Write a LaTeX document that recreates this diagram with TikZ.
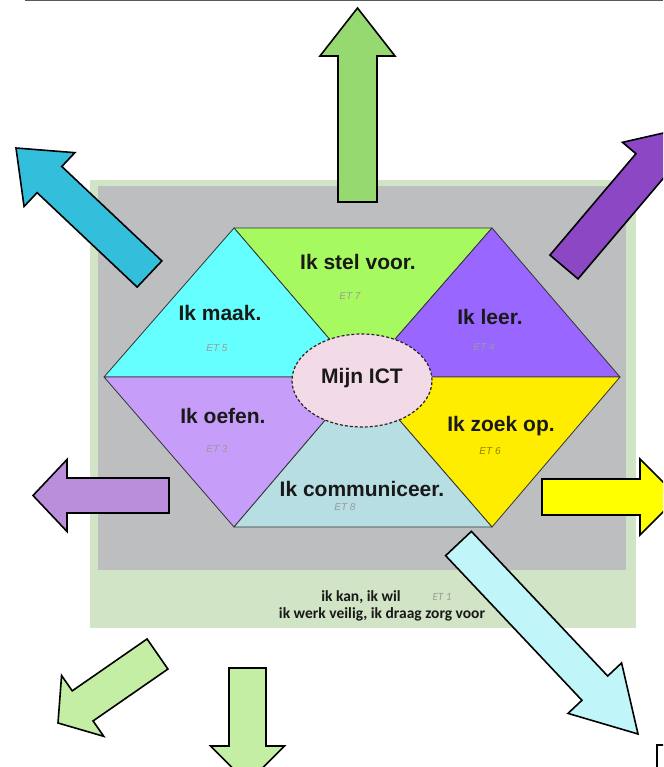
\documentclass[tikz,border=0pt]{standalone}
\usepackage{fontspec}
\setmainfont{Liberation Sans}
\newfontfamily\calfont{Carlito}
\usetikzlibrary{calc,shapes.geometric}
\definecolor{bggreen}{HTML}{D1E4C5}
\definecolor{bggray}{HTML}{BDBEC0}
\definecolor{tgreen}{HTML}{A7F960}
\definecolor{tcyan}{HTML}{66FFFF}
\definecolor{tpurple}{HTML}{9966FF}
\definecolor{tlav}{HTML}{C69DF8}
\definecolor{tyellow}{HTML}{FFED00}
\definecolor{tblue}{HTML}{B7DEE2}
\definecolor{epink}{HTML}{F2DAE6}
\definecolor{agreen}{HTML}{97D971}
\definecolor{acyan}{HTML}{33BFDC}
\definecolor{apurple}{HTML}{8C47C5}
\definecolor{alav}{HTML}{BA8EDB}
\definecolor{ayellow}{HTML}{FFFF00}
\definecolor{alcyan}{HTML}{C0F5FA}
\definecolor{alight}{HTML}{C4EEA4}
\definecolor{etgray}{HTML}{9A9A9A}
\newcommand\blockarr[6]{%
  \coordinate (ba) at #2; \coordinate (ti) at #3;
  \coordinate (hb) at ($(ti)!#6!(ba)$);
  \draw[arrowbox,#1] ($(ba)!#4!90:(ti)$) -- ($(hb)!#4!90:(ti)$) -- ($(hb)!#5!90:(ti)$)
    -- (ti) -- ($(hb)!#5!-90:(ti)$) -- ($(hb)!#4!-90:(ti)$) -- ($(ba)!#4!-90:(ti)$) -- cycle;}
\tikzset{
  arrowbox/.style={draw=black,line width=1.6pt,line join=miter},
  tri/.style={draw=black!80,line width=0.8pt,line join=round},
  lab/.style={font=\bfseries\fontsize{21}{24}\selectfont,text=black!90,inner sep=0pt},
  etlab/.style={font=\itshape\fontsize{10}{12}\selectfont,text=etgray,inner sep=0pt},
  bottomlab/.style={font=\calfont\bfseries\fontsize{15.5}{18}\selectfont,text=black!90,inner sep=0pt},
}
\begin{document}
\begin{tikzpicture}[x=1pt,y=-1pt]
\useasboundingbox (0,0) rectangle (663,767);
\begin{scope}
\clip (0,0) rectangle (663,767);
% top line
\draw[line width=2pt,black!65] (25,0.5) -- (663,0.5);
% backgrounds
\fill[bggreen] (90,180) rectangle (636,628);
\fill[bggray] (98,186) rectangle (626,570);
% arrows
\blockarr{fill=agreen}{(357.5,202)}{(357.5,8)}{19.5pt}{37.5pt}{48pt}
\blockarr{fill=acyan}{(149.5,274)}{(16,148)}{18pt}{37pt}{46pt}
\blockarr{fill=apurple}{(564,267)}{(681,129)}{18.4pt}{36pt}{48pt}
\blockarr{fill=alav}{(169,495.5)}{(33,495.5)}{17.5pt}{36pt}{34pt}
\blockarr{fill=ayellow}{(542,497)}{(678,497)}{18pt}{38pt}{38pt}
\blockarr{fill=alcyan}{(458.5,543.5)}{(638,734)}{17.7pt}{36.8pt}{63pt}
\blockarr{fill=alight}{(157.5,654)}{(58,723)}{18.3pt}{37pt}{30pt}
\blockarr{fill=alight}{(247.5,668)}{(247.5,783)}{18.5pt}{37pt}{37pt}
% corner of box at bottom right
\draw[line width=1.6pt] (664,745) -- (657,745) -- (657,768);
\end{scope}
% hexagon
\coordinate (C) at (362,377);
\coordinate (L) at (104,377);
\coordinate (TL) at (234,228);
\coordinate (TR) at (492,228);
\coordinate (R) at (620,377);
\coordinate (BR) at (492,527);
\coordinate (BL) at (234,527);
\filldraw[tri,fill=tgreen] (TL) -- (TR) -- (C) -- cycle;
\filldraw[tri,fill=tcyan] (TL) -- (C) -- (L) -- cycle;
\filldraw[tri,fill=tpurple] (TR) -- (R) -- (C) -- cycle;
\filldraw[tri,fill=tlav] (L) -- (C) -- (BL) -- cycle;
\filldraw[tri,fill=tyellow] (R) -- (BR) -- (C) -- cycle;
\filldraw[tri,fill=tblue] (BL) -- (BR) -- (C) -- cycle;
\node[ellipse,draw=black!85,fill=epink,line width=1.2pt,dash pattern=on 3pt off 2pt,
  minimum width=140pt,minimum height=93pt,inner sep=0pt] (mijn) at (362,380.5) {};
\node[lab] (mijnt) at (362,378) {Mijn ICT};
% labels
\node[lab] (stel) at (358,262) {Ik stel voor.};
\node[etlab] (et7) at (350,296) {ET 7};
\node[lab] (maak) at (220,313) {Ik maak.};
\node[etlab] (et5) at (217,348) {ET 5};
\node[lab] (leer) at (490,317) {Ik leer.};
\node[etlab] (et4) at (484,347) {ET 4};
\node[lab] (oefen) at (223,416) {Ik oefen.};
\node[etlab] (et3) at (217,449) {ET 3};
\node[lab] (zoek) at (501,426) {Ik zoek op.};
\node[etlab,text=black!45!tyellow] (et6) at (490,451) {ET 6};
\node[lab] (comm) at (362,489) {Ik communiceer.};
\node[etlab] (et8) at (345,507) {ET 8};
% bottom text
\node[bottomlab] (kan) at (361,597) {ik kan, ik wil};
\node[etlab,font=\calfont\itshape\fontsize{11}{12}\selectfont] (et1) at (442,597) {ET 1};
\node[bottomlab] (veilig) at (382,614) {ik werk veilig, ik draag zorg voor};
\end{tikzpicture}
\end{document}
